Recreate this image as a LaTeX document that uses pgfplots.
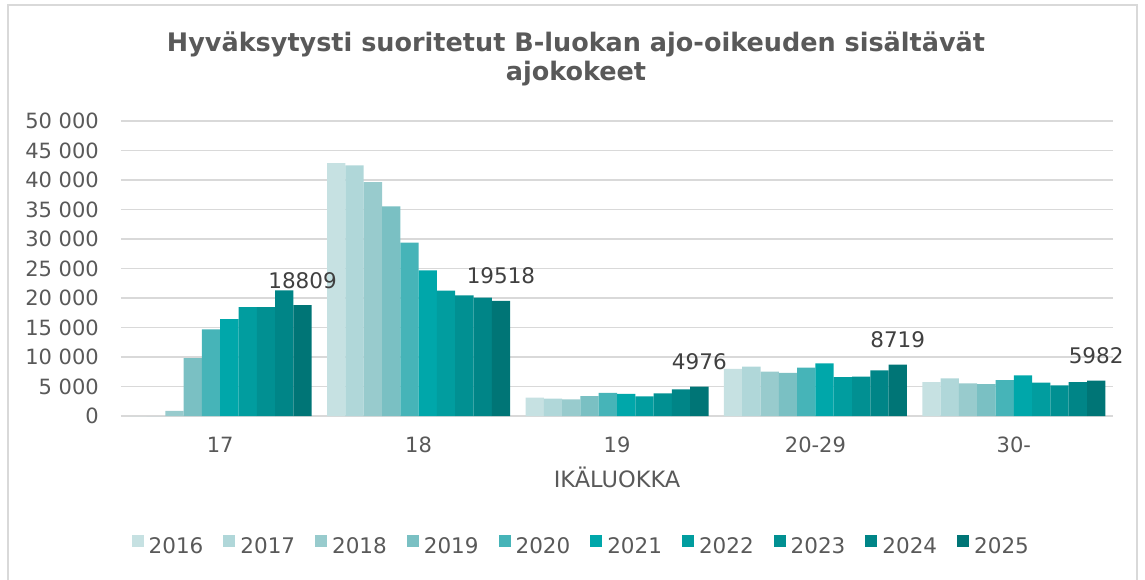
\documentclass[border=0pt]{standalone}
\usepackage{fontspec}
\setmainfont{DejaVu Sans}
\usepackage{pgfplots}
\pgfplotsset{compat=1.18}
\definecolor{c16}{HTML}{C6E1E2}
\definecolor{c17}{HTML}{B0D7D9}
\definecolor{c18}{HTML}{98CBCD}
\definecolor{c19}{HTML}{7AC0C3}
\definecolor{c20}{HTML}{46B4B8}
\definecolor{c21}{HTML}{00A7AA}
\definecolor{c22}{HTML}{019D9F}
\definecolor{c23}{HTML}{019092}
\definecolor{c24}{HTML}{008587}
\definecolor{c25}{HTML}{007576}
\definecolor{txt}{HTML}{595959}
\definecolor{lbl}{HTML}{404040}
\definecolor{grd}{HTML}{D9D9D9}
\begin{document}
\begin{tikzpicture}[x=1pt,y=1pt]
\useasboundingbox (-121,-163) rectangle (1024,416);
\draw[grd, line width=1.2pt] (-113,-170) -- (-113,411) -- (1016,411) -- (1016,-170);
\begin{axis}[
  at={(0,0)}, anchor=south west,
  scale only axis, width=992pt, height=295pt,
  xmin=-0.5, xmax=4.5, ymin=0, ymax=50000,
  enlargelimits=false, clip=false,
  scaled y ticks=false,
  ybar=0pt, bar width=18.3pt,
  axis line style={draw=none},
  major tick length=0pt,
  ymajorgrids, grid style={grd, line width=1.3pt},
  ytick={0,5000,10000,15000,20000,25000,30000,35000,40000,45000,50000},
  yticklabels={0,5 000,10 000,15 000,20 000,25 000,30 000,35 000,40 000,45 000,50 000},
  xtick={0,1,2,3,4},
  xticklabels={17,18,19,20-29,30-},
  /pgf/number format/assume math mode=true,
  ticklabel style={font=\fontsize{21}{25}\selectfont, text=txt},
  yticklabel style={anchor=east, inner sep=0pt, xshift=-22pt},
  xticklabel style={anchor=north, inner sep=0pt, yshift=-21pt},
  every axis plot/.append style={draw=none},
  legend columns=10,
  legend style={at={(0.463,-0.437)}, anchor=center, draw=none, fill=none,
    font=\fontsize{21.5}{25}\selectfont, text=txt,
    nodes={inner sep=0pt},
    /tikz/every odd column/.append style={column sep=5pt},
    /tikz/every even column/.append style={column sep=20pt}},
  legend image code/.code={\fill[#1,draw=none] (0pt,-1pt) rectangle (12pt,11pt);},
]
\addplot[fill=c16] coordinates {(0,0) (1,42880) (2,3120) (3,7970) (4,5760)};
\addplot[fill=c17] coordinates {(0,0) (1,42490) (2,2950) (3,8370) (4,6390)};
\addplot[fill=c18] coordinates {(0,850) (1,39660) (2,2830) (3,7530) (4,5540)};
\addplot[fill=c19] coordinates {(0,9830) (1,35540) (2,3390) (3,7290) (4,5420)};
\addplot[fill=c20] coordinates {(0,14700) (1,29390) (2,3900) (3,8200) (4,6100)};
\addplot[fill=c21] coordinates {(0,16440) (1,24690) (2,3730) (3,8930) (4,6900)};
\addplot[fill=c22] coordinates {(0,18470) (1,21250) (2,3340) (3,6610) (4,5660)};
\addplot[fill=c23] coordinates {(0,18470) (1,20460) (2,3850) (3,6680) (4,5200)};
\addplot[fill=c24] coordinates {(0,21300) (1,20060) (2,4520) (3,7750) (4,5760)};
\addplot[fill=c25, nodes near coords,
  every node near coord/.append style={font=\fontsize{21.5}{25}\selectfont, text=lbl, anchor=south, inner sep=0pt, yshift=16.5pt},
  /pgf/number format/.cd, 1000 sep={}, assume math mode=true]
  coordinates {(0,18809) (1,19518) (2,4976) (3,8719) (4,5982)};
\legend{2016,2017,2018,2019,2020,2021,2022,2023,2024,2025}
\end{axis}
\node[anchor=base, text=txt, font=\bfseries\fontsize{25.5}{30}\selectfont, inner sep=0pt] at (455,364) {Hyväksytysti suoritetut B-luokan ajo-oikeuden sisältävät};
\node[anchor=base, text=txt, font=\bfseries\fontsize{25.5}{30}\selectfont, inner sep=0pt] at (455,335) {ajokokeet};
\node[anchor=base, text=txt, font=\fontsize{22.5}{26}\selectfont, inner sep=0pt] at (496,-71) {IKÄLUOKKA};
\end{tikzpicture}
\end{document}
